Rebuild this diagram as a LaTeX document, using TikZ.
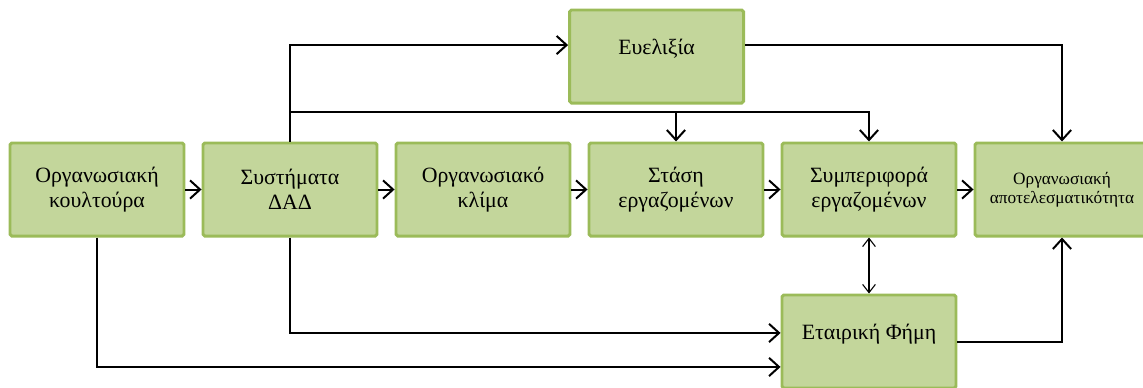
\documentclass[tikz,border=0pt]{standalone}
\usepackage{fontspec}
\setmainfont{Liberation Serif}
\usepackage{xcolor}
\usetikzlibrary{positioning, arrows.meta, calc}

\definecolor{boxfill}{HTML}{C3D69B}
\definecolor{boxline}{HTML}{9BBB59}

\begin{document}
\begin{tikzpicture}[
        x=0.55pt, y=0.55pt,
        node distance=30.8pt and 8.85pt,
        >={Straight Barb[length=5.5pt, width=10pt]},
        % Styles
        factorbox/.style={rectangle, draw=boxline, fill=boxfill, line width=1.6pt,
                rounded corners=1pt, minimum width=95.7pt, minimum height=51.2pt,
                align=center, font=\fontsize{12}{14}\selectfont},
        smallbox/.style={factorbox, font=\fontsize{9.5}{10.5}\selectfont},
        arrow/.style={->, line width=1.1pt, black},
        twoway/.style={<->, line width=0.6pt, black,
                >={Straight Barb[length=4.5pt, width=7pt]}}, ]

        \useasboundingbox (0,0) rectangle (1143,387);

        % === MAIN ROW ===
        \node[factorbox] (cult) at (97,197.5) {Οργανωσιακή\\κουλτούρα};
        \node[factorbox, right=of cult] (hrm) {Συστήματα\\ΔΑΔ};
        \node[factorbox, right=of hrm] (clim) {Οργανωσιακό\\κλίμα};
        \node[factorbox, right=of clim] (stance) {Στάση\\εργαζομένων};
        \node[factorbox, right=of stance] (behav) {Συμπεριφορά\\εργαζομένων};
        \node[smallbox, right=of behav] (eff) {Οργανωσιακή\\αποτελεσματικότητα};

        % === TOP AND BOTTOM ===
        \node[factorbox, above=20.35pt of stance, xshift=-10.7pt] (flex)
                {\raisebox{3.5pt}[8pt][3pt]{Ευελιξία}};
        \node[factorbox, below=of behav] (rep)
                {\raisebox{3.5pt}[8pt][3pt]{Εταιρική Φήμη}};

        % Row connections
        \draw[arrow] (cult) -- (hrm);
        \draw[arrow] (hrm) -- (clim);
        \draw[arrow] (clim) -- (stance);
        \draw[arrow] (stance) -- (behav);
        \draw[arrow] (behav) -- (eff);

        % From HRM systems upwards
        \coordinate (split) at (290,275);
        \draw[arrow] (hrm.north) |- ([yshift=6.3pt]flex.west);
        \draw[arrow] (split) -| (behav.north);
        \draw[arrow] (stance.north |- split) -- (stance.north);
        \draw[arrow] ([yshift=6.3pt]flex.east) -| (eff.north);

        % Reputation links
        \draw[twoway] (behav.south) -- (rep.north);
        \draw[arrow] (hrm.south) |- ([yshift=4.7pt]rep.west);
        \draw[arrow] (cult.south) |- ([yshift=-14pt]rep.west);
        \draw[arrow] (rep.east) -| (eff.south);

    \end{tikzpicture}
\end{document}
